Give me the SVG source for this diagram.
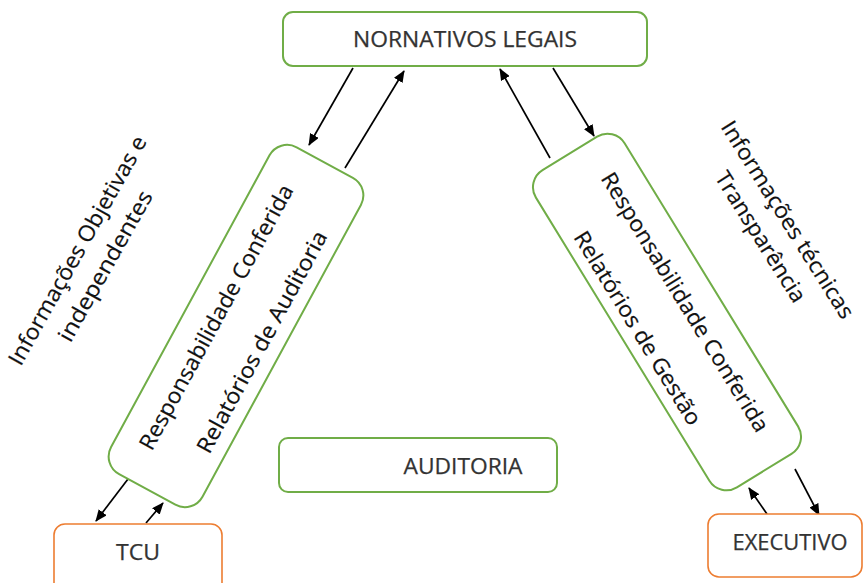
<svg xmlns="http://www.w3.org/2000/svg" width="864" height="583" viewBox="0 0 864 583">
  <defs>
    <marker id="arrow" markerUnits="userSpaceOnUse" markerWidth="12" markerHeight="10" refX="11" refY="5" orient="auto">
      <path d="M0,0 L12,5 L0,10 z" fill="#000"/>
    </marker>
    <style>
      .green { fill: #fff; stroke: #70AD47; stroke-width: 2; }
      .orange { fill: #fff; stroke: #ED7D31; stroke-width: 1.6; }
      .cap { font-family: "Open Sans", "Noto Sans", sans-serif; font-size: 21px; fill: #333; stroke: #333; stroke-width: 0.25; text-anchor: middle; }
      .rot { font-family: "Open Sans", "Noto Sans", sans-serif; font-size: 22px; fill: #111; stroke: #111; stroke-width: 0.2; text-anchor: middle; }
      .conn line { stroke: #000; stroke-width: 1.7; marker-end: url(#arrow); }
    </style>
  </defs>
  <rect width="864" height="583" fill="#fff"/>

  <!-- connectors -->
  <g id="connectors" class="conn">
    <line x1="353" y1="68" x2="309" y2="145"/>
    <line x1="345" y1="168" x2="404" y2="71"/>
    <line x1="550" y1="158" x2="500" y2="69"/>
    <line x1="553" y1="68" x2="594" y2="136"/>
    <line x1="128" y1="479" x2="96" y2="521"/>
    <line x1="146" y1="523" x2="163" y2="503"/>
    <line x1="767" y1="514" x2="749" y2="488"/>
    <line x1="795" y1="469" x2="819" y2="515"/>
  </g>

  <g id="normativos">
    <rect class="green" x="283" y="12" width="364" height="54" rx="10"/>
    <text class="cap" x="465" y="47" textLength="224" lengthAdjust="spacingAndGlyphs">NORNATIVOS LEGAIS</text>
  </g>

  <g id="auditoria">
    <rect class="green" x="279" y="438" width="278" height="54" rx="9"/>
    <text class="cap" x="463" y="474" textLength="119" lengthAdjust="spacingAndGlyphs">AUDITORIA</text>
  </g>

  <g id="tcu">
    <rect class="orange" x="54" y="524" width="168" height="70" rx="11"/>
    <text class="cap" x="138" y="560" textLength="44" lengthAdjust="spacingAndGlyphs">TCU</text>
  </g>

  <g id="executivo">
    <rect class="orange" x="708" y="514" width="154" height="63" rx="11"/>
    <text class="cap" x="790" y="550" textLength="115" lengthAdjust="spacingAndGlyphs">EXECUTIVO</text>
  </g>

  <g id="controle" transform="translate(236,326) rotate(-61.5)">
    <rect class="green" x="-186" y="-52" width="372" height="104" rx="20"/>
    <text class="rot" x="-1.6" y="-14" textLength="298" lengthAdjust="spacingAndGlyphs">Responsabilidade Conferida</text>
    <text class="rot" x="-1.6" y="38" textLength="249" lengthAdjust="spacingAndGlyphs">Relatórios de Auditoria</text>
  </g>

  <g id="gestao" transform="translate(667,312) rotate(58.5)">
    <rect class="green" x="-186" y="-52" width="372" height="104" rx="20"/>
    <text class="rot" x="1" y="-13" textLength="300" lengthAdjust="spacingAndGlyphs">Responsabilidade Conferida</text>
    <text class="rot" x="-1.5" y="41" textLength="223" lengthAdjust="spacingAndGlyphs">Relatórios de Gestão</text>
  </g>

  <g id="info-objetivas" transform="translate(91,258) rotate(-60.7)">
    <text class="rot" x="0" y="-8" textLength="259" lengthAdjust="spacingAndGlyphs">Informações Objetivas e</text>
    <text class="rot" x="0" y="24" textLength="169" lengthAdjust="spacingAndGlyphs">independentes</text>
  </g>

  <g id="info-tecnicas" transform="translate(774.5,228) rotate(57.8)">
    <text class="rot" x="0" y="-8" textLength="229" lengthAdjust="spacingAndGlyphs">Informações técnicas</text>
    <text class="rot" x="0" y="24" textLength="150" lengthAdjust="spacingAndGlyphs">Transparência</text>
  </g>
</svg>
